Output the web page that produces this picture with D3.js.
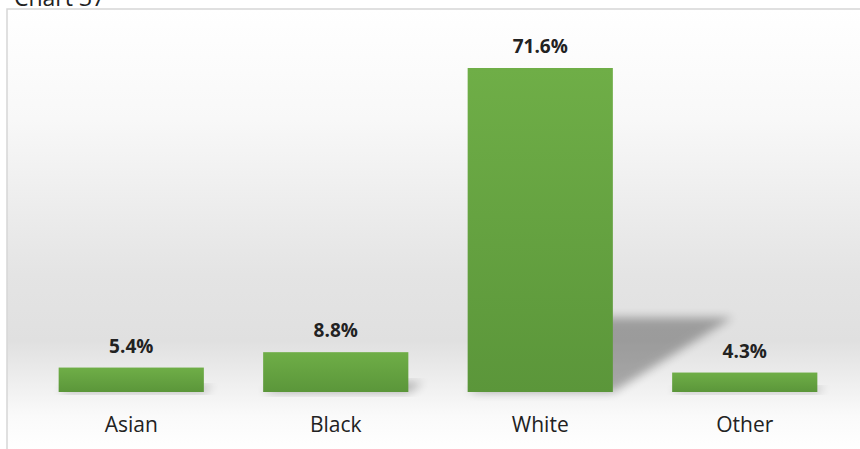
<!DOCTYPE html>
<html>
<head>
<meta charset="utf-8">
<script src="https://cdn.jsdelivr.net/npm/d3@7"></script>
<style>
  html, body { margin: 0; padding: 0; background: #fff; }
  svg { display: block; }
  text { font-family: "Open Sans", "Noto Sans", sans-serif; }
</style>
</head>
<body>
<div id="chart"></div>
<script>
const title = "Chart 37";
const categories = ["Asian", "Black", "White", "Other"];
const values = [5.4, 8.8, 71.6, 4.3];
const valueLabels = ["5.4%", "8.8%", "71.6%", "4.3%"];

const W = 860, H = 449;
const svg = d3.select("#chart").append("svg").attr("width", W).attr("height", H);
const defs = svg.append("defs");

const bg = defs.append("linearGradient").attr("id", "bg").attr("x1", 0).attr("y1", 0).attr("x2", 0).attr("y2", 1);
bg.append("stop").attr("offset", "0%").attr("stop-color", "#ffffff");
bg.append("stop").attr("offset", "25%").attr("stop-color", "#f8f8f8");
bg.append("stop").attr("offset", "60%").attr("stop-color", "#e4e4e4");
bg.append("stop").attr("offset", "75%").attr("stop-color", "#e0e0e0");
bg.append("stop").attr("offset", "92%").attr("stop-color", "#fafafa");
bg.append("stop").attr("offset", "100%").attr("stop-color", "#ffffff");

const barGrad = defs.append("linearGradient").attr("id", "barGrad").attr("x1", 0).attr("y1", 0).attr("x2", 0).attr("y2", 1);
barGrad.append("stop").attr("offset", "0%").attr("stop-color", "#6fae47");
barGrad.append("stop").attr("offset", "100%").attr("stop-color", "#5b963a");

const blur = defs.append("filter").attr("id", "blur").attr("x", "-50%").attr("y", "-50%").attr("width", "200%").attr("height", "200%");
blur.append("feGaussianBlur").attr("stdDeviation", 5);

// frame
const frameX = 7, frameY = 9;
svg.append("rect").attr("x", frameX).attr("y", frameY).attr("width", W - frameX + 2).attr("height", H - frameY + 2)
  .attr("fill", "url(#bg)").attr("stroke", "#d6d6d6").attr("stroke-width", 1.5);

svg.append("text").attr("x", 14).attr("y", 6).attr("font-size", 23).attr("fill", "#222")
  .text(title);

const x = d3.scaleBand().domain(categories).range([29, 847]).paddingInner(0.29).paddingOuter(0.145);
const y = d3.scaleLinear().domain([0, 71.6]).range([392, 68]);

const data = categories.map((c, i) => ({ c, v: values[i], label: valueLabels[i] }));
const base = y(0);

// shadows
const kx = 0.37, ky = 0.23;
svg.append("g").selectAll("path").data(data).join("path")
  .attr("d", d => {
    const x0 = x(d.c), x1 = x(d.c) + x.bandwidth();
    const h = base - y(d.v);
    const pts = [[x0, base], [x1, base], [x1 + kx * h, base - ky * h], [x0 + kx * h, base - ky * h]];
    return "M" + pts.map(p => p.join(",")).join("L") + "Z";
  })
  .attr("fill", "#000").attr("opacity", 0.3).attr("filter", "url(#blur)");

svg.append("g").selectAll("rect").data(data).join("rect")
  .attr("x", d => x(d.c)).attr("width", x.bandwidth())
  .attr("y", d => y(d.v)).attr("height", d => base - y(d.v))
  .attr("fill", "url(#barGrad)");

svg.append("g").selectAll("text").data(data).join("text")
  .attr("x", d => x(d.c) + x.bandwidth() / 2)
  .attr("y", d => y(d.v) - 15)
  .attr("text-anchor", "middle").attr("font-size", 19).attr("font-weight", "bold").attr("fill", "#222")
  .text(d => d.label);

const xAxis = svg.append("g").attr("transform", `translate(0,${base})`)
  .call(d3.axisBottom(x).tickSize(0).tickPadding(25));
xAxis.select(".domain").remove();
xAxis.selectAll("text").attr("font-size", 21).attr("fill", "#222")
  .style("font-family", "'Open Sans', sans-serif");
</script>
</body>
</html>
